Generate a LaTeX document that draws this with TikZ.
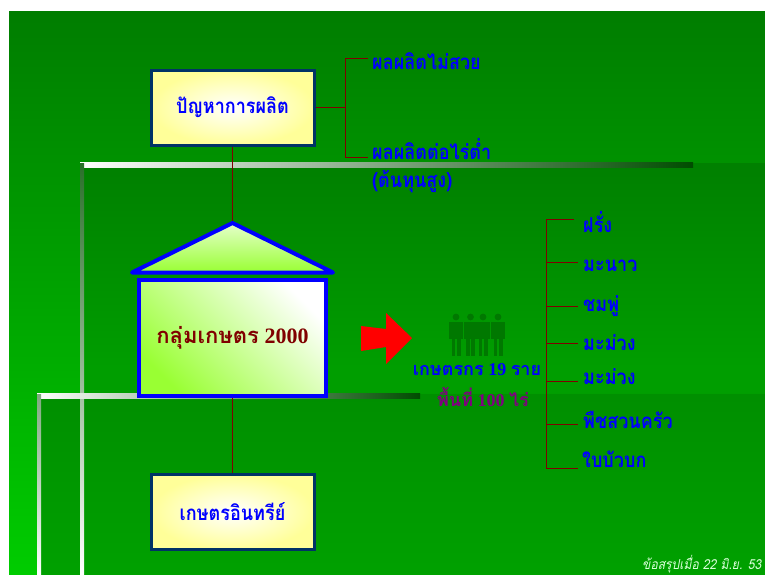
\documentclass[tikz,border=0pt]{standalone}
\usepackage{fontspec}
\setmainfont{Liberation Serif}
\newfontfamily\thf[Script=Thai,FakeStretch=0.88]{Loma}
\newfontfamily\thn[Script=Thai]{Loma}
\usetikzlibrary{calc}
\definecolor{conn}{HTML}{800000}
\definecolor{boxedge}{HTML}{003366}
\definecolor{pale}{HTML}{FFFF99}
\definecolor{lime}{HTML}{99FF33}
\definecolor{figgreen}{HTML}{007800}
\definecolor{plum}{HTML}{800080}
\definecolor{bevel}{HTML}{2A702A}
\tikzset{
  x=1pt,y=-1pt,
  conline/.style={draw=conn,line width=1pt},
  softbox/.style={draw=boxedge,line width=3pt,inner color=white,outer color=pale,minimum width=163pt,minimum height=75pt,inner sep=0pt,font=\bfseries\thf\fontsize{20.5}{24}\selectfont,text=blue},
  lbl/.style={anchor=west,inner sep=0pt,text=blue,font=\bfseries\thf\fontsize{20.5}{24}\selectfont},
  figpart/.style={fill=figgreen,draw=none},
}
\begin{document}
\begin{tikzpicture}
\useasboundingbox (0,0) rectangle (765,574);
\fill[white] (0,0) rectangle (765,574);
\clip (0,0) rectangle (765,574);
% backdrop
\shade[top color=green!49!black,bottom color=green!80!black,middle color=green!64!black] (9,11) rectangle (765,574);
% panels
\shade[top color=green!50!black,bottom color=green!60!black,middle color=green!62!black] (80,163) rectangle (765,574);
\shade[top color=green!56!black,bottom color=green!63!black] (37,394) rectangle (765,574);
% bevel bars
\shade[left color=white,right color=green!30!black] (80,162) rectangle (693,167);
\shade[top color=bevel,middle color=bevel,bottom color=white] (80,163) rectangle (84,574);
\shade[left color=white,right color=green!30!black] (37,393) rectangle (420,398);
\shade[top color=bevel!60!white,bottom color=white] (37,394) rectangle (41,574);
% boxes
\node[softbox] (prob) at (232.5,107.5) {ปัญหาการผลิต};
\node[softbox] (org) at (232.5,512) {เกษตรอินทรีย์};
\coordinate (roofapex) at (232.5,222);
\coordinate (probj) at (345.5,107.5);
\coordinate (c1) at (368,58);
\coordinate (c2) at (368,157);
\draw[conline] (prob.south) -- (roofapex);
\draw[conline] (prob.east) -- (probj);
\draw[conline] (c1) -- (345.5,58) -- (345.5,157) -- (c2);
\shade[top color=lime!25!white,bottom color=lime,draw=blue,line width=4pt,line join=round] (232.5,223) -- (333,272.5) -- (132,272.5) -- cycle;
\shade[shading=axis,left color=lime,middle color=lime!88!white,right color=white,shading angle=135,draw=none] (138,279) rectangle (327,397);
\node[draw=blue,line width=4.3pt,minimum width=187pt,minimum height=116pt,inner sep=0pt,text=conn,font=\bfseries\fontsize{22}{26}\selectfont] (main) at (232.5,338) {{\thn กลุ่มเกษตร} 2000};
\draw[conline] (main.south) -- (org.north);
% arrow
\fill[red] (361,326) -- (386,329) -- (386,313) -- (412,338) -- (386,364) -- (386,347) -- (361,351) -- cycle;
% people
\foreach \xx in {456,470.5,483,498}{
  \fill[figpart] (\xx,317) circle (3.4);
  \fill[figpart] (\xx-7,322) rectangle (\xx+7,338.5);
  \fill[figpart] (\xx-4.5,338) rectangle (\xx-0.7,356);
  \fill[figpart] (\xx+0.7,338) rectangle (\xx+4.5,356);
}
\node[inner sep=0pt,text=blue,font=\bfseries\fontsize{18}{22}\selectfont] (farmers) at (477,370) {{\thn เกษตรกร} 19 {\thn ราย}};
\node[inner sep=0pt,text=plum,font=\bfseries\fontsize{18}{22}\selectfont] (area) at (483,397) {{\thn พื้นที่} 100 {\thn ไร่}};
% top labels
\node[lbl] (l1) at (372,61) {ผลผลิตไม่สวย};
\node[lbl] (l2) at (372,149) {ผลผลิตต่อไร่ต่ำ};
\node[lbl] (l3) at (372,182) {(ต้นทุนสูง)};
% tree
\coordinate (t0) at (546.5,219);
\coordinate (t6) at (546.5,468);
\draw[conline] (574,219) -- (t0) -- (t6) -- (578,468);
\foreach \yy in {262.7,306,343.7,381,424}{
  \draw[conline] (546.5,\yy) -- (578,\yy);
}
\node[lbl] (a) at (583,222) {ฝรั่ง};
\node[lbl] (b) at (583,265.5) {มะนาว};
\node[lbl] (c) at (583,306) {ชมพู่};
\node[lbl] (d) at (583,343) {มะม่วง};
\node[lbl] (e) at (583,377) {มะม่วง};
\node[lbl] (f) at (583,420) {พืชสวนครัว};
\node[lbl] (g) at (582,459) {ใบบัวบก};
\node[anchor=west,inner sep=0pt,text=white!85!green,font=\itshape\thf\fontsize{13.8}{15}\selectfont] (foot) at (642,564) {ข้อสรุปเมื่อ 22 มิ.ย. 53};
\end{tikzpicture}
\end{document}
